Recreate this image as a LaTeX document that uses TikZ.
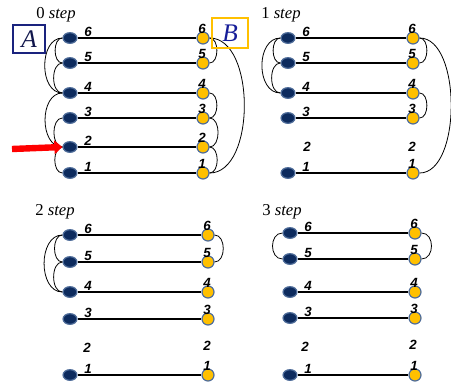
\documentclass[tikz,border=0pt]{standalone}
\usepackage{fontspec}
\setmainfont{Liberation Serif}
\newfontfamily\lab{Liberation Sans}
\usetikzlibrary{shapes.geometric,arrows.meta}
\definecolor{navyfill}{HTML}{0D2B5E}
\definecolor{rimblue}{HTML}{4F6D9A}
\definecolor{goldfill}{HTML}{FFC000}
\definecolor{boxnavy}{HTML}{1A237E}
\definecolor{arrowred}{HTML}{FF0000}
\tikzset{
  anode/.style={ellipse, draw=rimblue, fill=navyfill, line width=0.9pt, minimum width=10.5pt, minimum height=8pt, inner sep=0pt},
  bnode/.style={circle, draw=rimblue, fill=goldfill, line width=0.9pt, minimum size=9pt, inner sep=0pt},
  num/.style={font=\lab\bfseries\itshape\fontsize{10}{10}\selectfont, inner sep=0pt},
  link/.style={line width=1.8pt},
  arcline/.style={line width=0.6pt},
  ttl/.style={font=\fontsize{12.5}{14}\selectfont, inner sep=0pt, anchor=west},
  letterbox/.style={draw, line width=1.6pt, inner sep=0pt, font=\fontsize{19}{20}\selectfont\itshape}
}
\newcommand\rowpair[5]{%
  \node[anode] (a#1#5) at (#2,#4) {};
  \node[bnode] (b#1#5) at (#3,#4) {};
  \draw[link] (a#1#5) -- (b#1#5);
}
\newcommand\rowlabels[5]{%
  \node[num] (la#1#5) at ({#2+18},{#4-6}) {#5};
  \node[num] (lb#1#5) at ({#3-1},{#4-9}) {#5};
}
\begin{document}
\begin{tikzpicture}[x=0.75pt,y=-0.75pt]
\useasboundingbox (0,0) rectangle (451,383);
% ---------------- panel 0
\foreach \n/\y in {6/38,5/63,4/93,3/118,2/147,1/173}{\rowpair{0}{70}{203}{\y}{\n}}
\draw[arcline] (a06) to[out=180,in=180,looseness=1] (a05);
\draw[arcline] (a05) to[out=180,in=180,looseness=1] (a04);
\draw[arcline] (a06) to[out=180,in=180,looseness=1.1] (a04);
\draw[arcline] (a04) to[out=180,in=180,looseness=1.1] (a02);
\draw[arcline] (a03) to[out=180,in=180,looseness=1] (a02);
\draw[arcline] (a02) to[out=180,in=180,looseness=1] (a01);
\draw[arcline] (b06) to[out=0,in=0,looseness=1] (b05);
\draw[arcline] (b04) to[out=0,in=0,looseness=1] (b03);
\draw[arcline] (b03) to[out=0,in=0,looseness=1] (b02);
\draw[arcline] (b02) to[out=0,in=0,looseness=1] (b01);
\draw[arcline] (b06) to[out=0,in=0,looseness=0.88] (b01);
\foreach \n/\y in {6/38,5/63,4/93,3/118,2/147,1/173}{\rowlabels{0}{70}{203}{\y}{\n}}
\node[ttl] (t0) at (36,15) {0 \textit{step}};
\node[letterbox, draw=boxnavy, text=boxnavy!60!black, minimum width=24pt, minimum height=21pt] (boxA) at (29,39) {A};
\node[letterbox, draw=goldfill, text=boxnavy!80!blue, minimum width=27pt, minimum height=22.5pt] (boxB) at (230,33) {B};
\coordinate (arrowstart) at (12,149);
\draw[arrowred, line width=4.8pt, -{Triangle[length=6pt,width=10pt]}] (arrowstart) -- (a02.west);
% ---------------- panel 1
\foreach \n/\y in {6/38,5/63,4/93,3/118,1/173}{\rowpair{1}{288}{413}{\y}{\n}}
\draw[arcline] (a16) to[out=180,in=180,looseness=1] (a15);
\draw[arcline] (a15) to[out=180,in=180,looseness=1] (a14);
\draw[arcline] (a16) to[out=180,in=180,looseness=1.15] (a14);
\draw[arcline] (b16) to[out=0,in=0,looseness=1] (b15);
\draw[arcline] (b14) to[out=0,in=0,looseness=1] (b13);
\draw[arcline] (b16) to[out=0,in=0,looseness=0.8] (b11);
\foreach \n/\y in {6/38,5/63,4/93,3/118,1/173}{\rowlabels{1}{288}{413}{\y}{\n}}
\node[num] (l1l2) at (307,147) {2};
\node[num] (l1r2) at (412,147) {2};
\node[ttl] (t1) at (261,15) {1 \textit{step}};
% ---------------- panel 2
\foreach \n/\y in {6/235,5/262,4/292,3/319,1/375}{\rowpair{2}{70}{208}{\y}{\n}}
\draw[arcline] (a26) to[out=180,in=180,looseness=1] (a25);
\draw[arcline] (a25) to[out=180,in=180,looseness=1] (a24);
\draw[arcline] (a26) to[out=180,in=180,looseness=1.1] (a24);
\draw[arcline] (b26) to[out=0,in=0,looseness=1.1] (b25);
\foreach \n/\y in {6/235,5/262,4/292,3/319,1/375}{\rowlabels{2}{70}{208}{\y}{\n}}
\node[num] (l2l2) at (87,348) {2};
\node[num] (l2r2) at (207,346) {2};
\node[ttl] (t2) at (35,212) {2 \textit{step}};
% ---------------- panel 3
\foreach \n/\y in {6/233,5/259,4/292,3/318,1/375}{\rowpair{3}{290}{415}{\y}{\n}}
\draw[arcline] (a36) to[out=180,in=180,looseness=1.3] (a35);
\draw[arcline] (b36) to[out=0,in=0,looseness=1.3] (b35);
\foreach \n/\y in {6/233,5/259,4/292,3/318,1/375}{\rowlabels{3}{290}{415}{\y}{\n}}
\node[num] (l3l2) at (305,347) {2};
\node[num] (l3r2) at (413,345) {2};
\node[ttl] (t3) at (262,212) {3 \textit{step}};
\end{tikzpicture}
\end{document}
